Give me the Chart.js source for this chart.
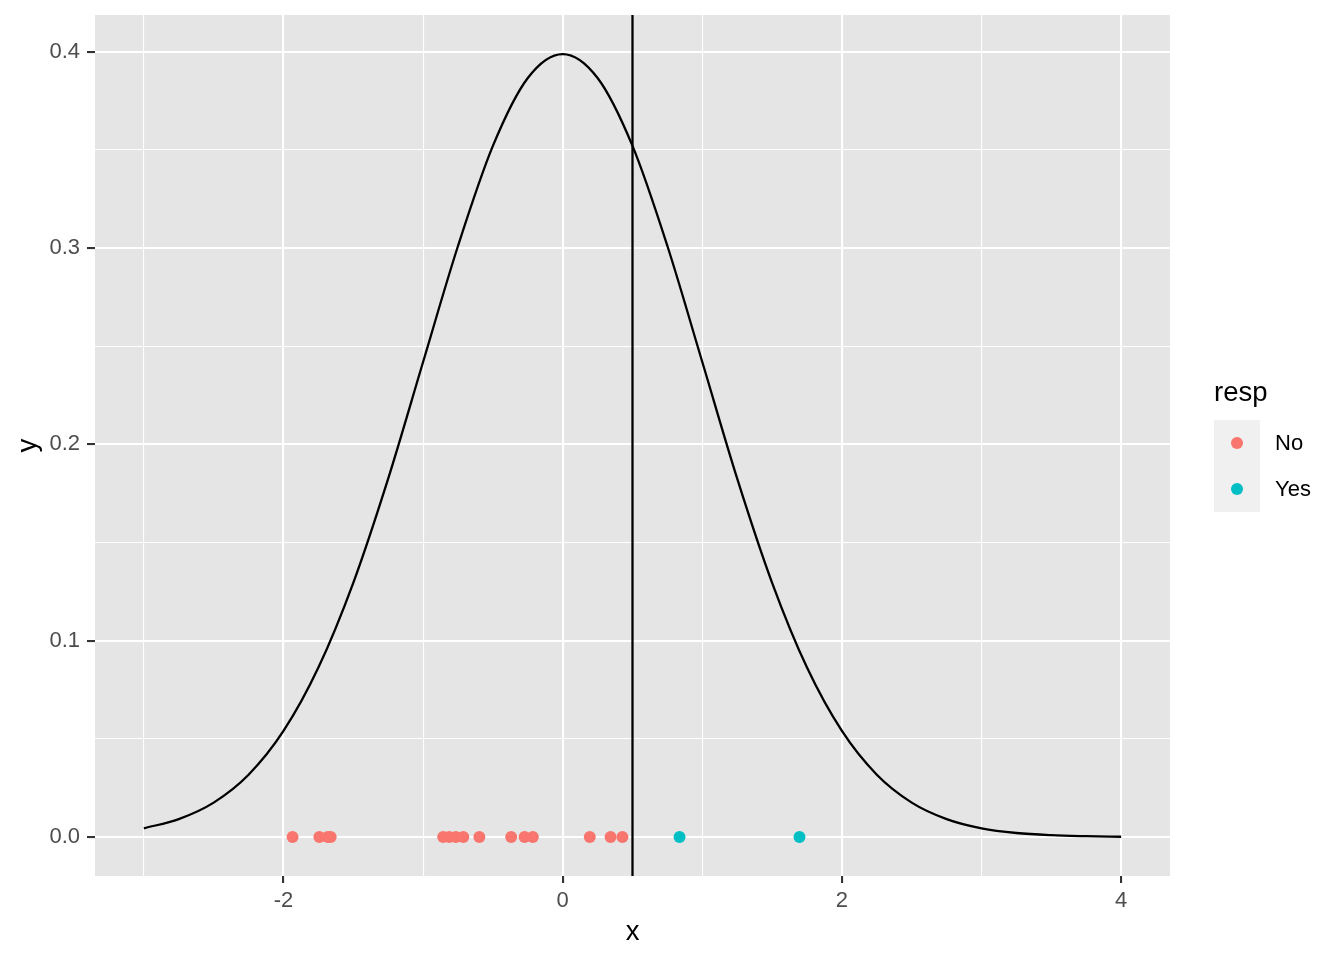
<!DOCTYPE html>
<html>
<head>
<meta charset="utf-8">
<script src="https://cdn.jsdelivr.net/npm/chart.js@4.4.1/dist/chart.umd.min.js"></script>
<style>
  html, body { margin: 0; padding: 0; background: #ffffff; }
  canvas { display: block; }
</style>
</head>
<body>
<canvas id="chart" width="1344" height="960"></canvas>
<script>
// density curve at steps of 0.25
const curveX = [-3, -2.75, -2.5, -2.25, -2, -1.75, -1.5, -1.25, -1, -0.75, -0.5, -0.25, 0,
  0.25, 0.5, 0.75, 1, 1.25, 1.5, 1.75, 2, 2.25, 2.5, 2.75, 3, 3.25, 3.5, 3.75, 4];
const curveY = [0.0044, 0.0091, 0.0175, 0.0317, 0.0540, 0.0863, 0.1295, 0.1826, 0.2420, 0.3011, 0.3521, 0.3867, 0.3989,
  0.3867, 0.3521, 0.3011, 0.2420, 0.1826, 0.1295, 0.0863, 0.0540, 0.0317, 0.0175, 0.0091, 0.0044, 0.0020, 0.0009, 0.0004, 0.0001];

// observations sitting on y = 0
const noX = [-1.935, -1.743, -1.683, -1.662, -0.856, -0.813, -0.765, -0.712, -0.597, -0.369, -0.273, -0.214, 0.194, 0.343, 0.428];
const yesX = [0.837, 1.696];

const cutoff = 0.5;

const xMajor = [-2, 0, 2, 4];
const xMinor = [-3, -1, 1, 3];
const yMajor = [0, 0.1, 0.2, 0.3, 0.4];
const yMinor = [0.05, 0.15, 0.25, 0.35];

const xRange = [-3.35, 4.35];
const yRange = [-0.0199, 0.4188];

const colNo = '#F8766D';
const colYes = '#00BFC4';
const FONT = '"Liberation Sans", Arial, sans-serif';

const isMajorX = v => xMajor.some(m => Math.abs(m - v) < 1e-9);
const isMajorY = v => yMajor.some(m => Math.abs(m - v) < 1e-9);

const panelPlugin = {
  id: 'panel',
  beforeDraw(chart) {
    const { ctx, chartArea: a } = chart;
    ctx.save();
    ctx.fillStyle = '#E5E5E5';
    ctx.fillRect(a.left, a.top, a.right - a.left, a.bottom - a.top);
    ctx.restore();
  },
  afterDraw(chart) {
    const { ctx, chartArea: a } = chart;
    ctx.save();
    // axis titles
    ctx.fillStyle = '#000000';
    ctx.font = '27.5px ' + FONT;
    ctx.textAlign = 'center';
    ctx.textBaseline = 'alphabetic';
    ctx.fillText('x', (a.left + a.right) / 2, 940);
    ctx.save();
    ctx.translate(36, (a.top + a.bottom) / 2);
    ctx.rotate(-Math.PI / 2);
    ctx.fillText('y', 0, 0);
    ctx.restore();

    // legend
    ctx.textAlign = 'left';
    ctx.fillText('resp', 1214, 401);
    ctx.fillStyle = '#F0F0F0';
    ctx.fillRect(1214, 420, 46, 92);
    const items = [['No', colNo], ['Yes', colYes]];
    items.forEach((it, i) => {
      const cy = 443 + i * 46;
      ctx.fillStyle = it[1];
      ctx.beginPath();
      ctx.arc(1237, cy, 6, 0, Math.PI * 2);
      ctx.fill();
      ctx.fillStyle = '#000000';
      ctx.font = '22px ' + FONT;
      ctx.textBaseline = 'middle';
      ctx.fillText(it[0], 1275, cy + 1);
    });
    ctx.restore();
  }
};

const ctx = document.getElementById('chart').getContext('2d');
new Chart(ctx, {
  type: 'scatter',
  data: {
    datasets: [
      {
        label: 'density',
        type: 'line',
        data: curveX.map((x, i) => ({ x: x, y: curveY[i] })),
        borderColor: '#000000',
        borderWidth: 2.3,
        pointRadius: 0,
        cubicInterpolationMode: 'monotone',
        fill: false,
        order: 3
      },
      {
        label: 'cutoff',
        type: 'line',
        data: [{ x: cutoff, y: yRange[0] }, { x: cutoff, y: yRange[1] }],
        borderColor: '#000000',
        borderWidth: 2.3,
        pointRadius: 0,
        fill: false,
        order: 2
      },
      {
        label: 'No',
        data: noX.map(x => ({ x: x, y: 0 })),
        backgroundColor: colNo,
        borderWidth: 0,
        pointRadius: 6,
        order: 1
      },
      {
        label: 'Yes',
        data: yesX.map(x => ({ x: x, y: 0 })),
        backgroundColor: colYes,
        borderWidth: 0,
        pointRadius: 6,
        order: 1
      }
    ]
  },
  options: {
    responsive: false,
    animation: false,
    devicePixelRatio: 1,
    layout: { padding: { left: 0, top: 15, right: 174, bottom: 0 } },
    plugins: {
      legend: { display: false },
      tooltip: { enabled: false }
    },
    scales: {
      x: {
        type: 'linear',
        min: xRange[0],
        max: xRange[1],
        border: { display: false },
        afterFit: scale => {
          scale.height = 84;
          scale.paddingLeft = 0;
          scale.paddingRight = 0;
        },
        afterBuildTicks: scale => {
          scale.ticks = xMajor.concat(xMinor).sort((a, b) => a - b).map(v => ({ value: v }));
        },
        grid: {
          color: '#FFFFFF',
          lineWidth: c => isMajorX(c.tick.value) ? 2.1 : 1.1,
          tickLength: 7,
          tickColor: c => isMajorX(c.tick.value) ? '#333333' : 'rgba(0,0,0,0)',
          tickWidth: 2.1
        },
        ticks: {
          autoSkip: false,
          maxRotation: 0,
          padding: 5,
          color: '#4D4D4D',
          font: { family: FONT, size: 22 },
          callback: v => isMajorX(v) ? String(v) : ''
        }
      },
      y: {
        type: 'linear',
        min: yRange[0],
        max: yRange[1],
        border: { display: false },
        afterFit: scale => {
          scale.width = 95;
          scale.paddingTop = 0;
          scale.paddingBottom = 0;
        },
        afterBuildTicks: scale => {
          scale.ticks = yMajor.concat(yMinor).sort((a, b) => a - b).map(v => ({ value: v }));
        },
        grid: {
          color: '#FFFFFF',
          lineWidth: c => isMajorY(c.tick.value) ? 2.1 : 1.1,
          tickLength: 8,
          tickColor: c => isMajorY(c.tick.value) ? '#333333' : 'rgba(0,0,0,0)',
          tickWidth: 2.1
        },
        ticks: {
          autoSkip: false,
          padding: 7,
          color: '#4D4D4D',
          font: { family: FONT, size: 22 },
          callback: v => isMajorY(v) ? v.toFixed(1) : ''
        }
      }
    }
  },
  plugins: [panelPlugin]
});
</script>
</body>
</html>
